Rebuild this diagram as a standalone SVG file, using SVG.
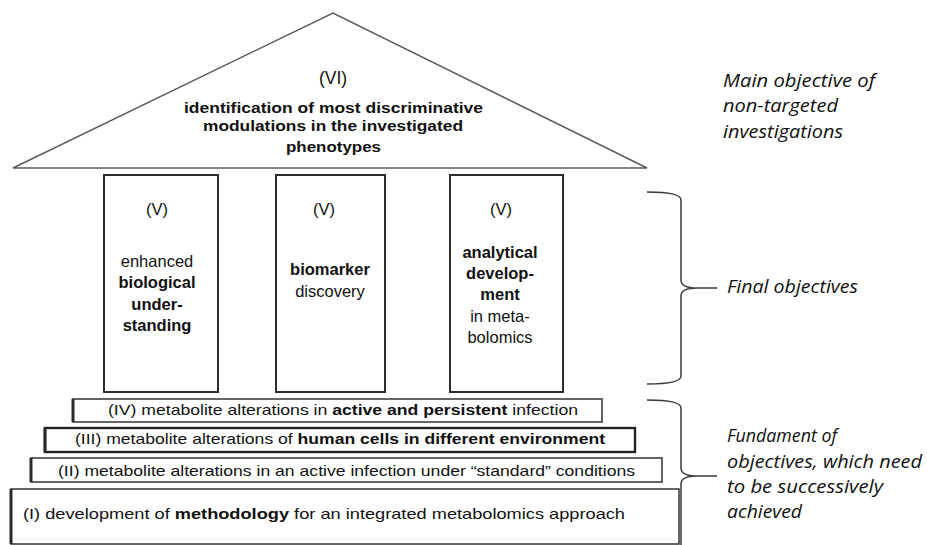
<svg xmlns="http://www.w3.org/2000/svg" width="927" height="545" viewBox="0 0 927 545">
  <style>
    .bg { fill: #ffffff; }
    .roof { fill: #ffffff; stroke: #5a5a5a; stroke-width: 1.4; stroke-linejoin: miter; }
    .pillar { fill: #ffffff; stroke: #2e2e2e; stroke-width: 2; }
    .step { fill: #ffffff; stroke: #333333; stroke-width: 1.5; }
    .stepthick { fill: #ffffff; stroke: #222222; stroke-width: 2.4; }
    .edge { stroke: #2a2a2a; stroke-width: 3; }
    .brace { fill: none; stroke: #3a3a3a; stroke-width: 1.5; }
    .t { font-family: "Liberation Sans", Arial, sans-serif; fill: #111111; }
    .roof-t { font-size: 15.5px; }
    .pil { font-size: 16.5px; text-anchor: middle; }
    .row { font-size: 15px; }
    .b { font-weight: bold; }
    .note { font-family: "Open Sans", "Noto Sans", sans-serif; font-style: italic; font-size: 18px; fill: #111111; }
  </style>

  <rect class="bg" x="0" y="0" width="927" height="545"/>

  <!-- roof (VI) -->
  <g id="roof">
    <polygon class="roof" points="13,168 333,13 647,168"/>
    <text class="t" x="333" y="84" text-anchor="middle" font-size="17.5">(VI)</text>
    <text class="t roof-t b" x="184" y="113" textLength="299" lengthAdjust="spacingAndGlyphs">identification of most discriminative</text>
    <text class="t roof-t b" x="203" y="131" textLength="260" lengthAdjust="spacingAndGlyphs">modulations in the investigated</text>
    <text class="t roof-t b" x="286" y="152" textLength="95" lengthAdjust="spacingAndGlyphs">phenotypes</text>
  </g>

  <!-- pillars (V) -->
  <g id="pillar-biology">
    <rect class="pillar" x="104" y="175" width="114" height="217"/>
    <text class="t pil" x="157" y="215">(V)</text>
    <text class="t pil" x="157" y="267">enhanced</text>
    <text class="t pil b" x="157" y="288">biological</text>
    <text class="t pil b" x="157" y="310">under-</text>
    <text class="t pil b" x="157" y="331">standing</text>
  </g>
  <g id="pillar-biomarker">
    <rect class="pillar" x="276" y="175" width="109" height="217"/>
    <text class="t pil" x="324" y="215">(V)</text>
    <text class="t pil b" x="330" y="275">biomarker</text>
    <text class="t pil" x="330" y="297">discovery</text>
  </g>
  <g id="pillar-analytics">
    <rect class="pillar" x="450" y="175" width="113" height="217"/>
    <text class="t pil" x="501" y="215">(V)</text>
    <text class="t pil b" x="500" y="258">analytical</text>
    <text class="t pil b" x="500" y="279">develop-</text>
    <text class="t pil b" x="500" y="300">ment</text>
    <text class="t pil" x="500" y="322">in meta-</text>
    <text class="t pil" x="500" y="343">bolomics</text>
  </g>

  <!-- foundation steps (IV) .. (I) -->
  <g id="step-IV">
    <rect class="step" x="73" y="399" width="529" height="23"/>
    <line class="edge" x1="73" y1="399" x2="73" y2="422"/>
    <text class="t row" x="108" y="415" textLength="470" lengthAdjust="spacingAndGlyphs">(IV) metabolite alterations in <tspan class="b">active and persistent</tspan> infection</text>
  </g>
  <g id="step-III">
    <rect class="stepthick" x="45" y="428" width="590" height="24"/>
    <line class="edge" x1="45" y1="428" x2="45" y2="452"/>
    <text class="t row" x="75" y="444" textLength="530" lengthAdjust="spacingAndGlyphs">(III) metabolite alterations of <tspan class="b">human cells in different environment</tspan></text>
  </g>
  <g id="step-II">
    <rect class="step" x="31" y="458" width="631" height="24"/>
    <line class="edge" x1="31" y1="458" x2="31" y2="482"/>
    <text class="t row" x="58" y="476" textLength="577" lengthAdjust="spacingAndGlyphs">(II) metabolite alterations in an active infection under “standard” conditions</text>
  </g>
  <g id="step-I">
    <rect class="step" x="11" y="489" width="668" height="55"/>
    <line class="edge" x1="11" y1="489" x2="11" y2="544"/>
    <text class="t row" x="23" y="519" textLength="602" lengthAdjust="spacingAndGlyphs">(I) development of <tspan class="b">methodology</tspan> for an integrated metabolomics approach</text>
  </g>

  <!-- braces -->
  <g id="connectors">
    <path class="brace" d="M647,192 Q681,192 681,200 L681,280 Q681,288 697,288 L717,288 M697,288 Q681,288 681,296 L681,376 Q681,384 647,384"/>
    <path class="brace" d="M647,400 Q681,400 681,408 L681,468 Q681,476 697,476 L717,476 M697,476 Q681,476 681,484 L681,560"/>
  </g>

  <!-- side annotations -->
  <g id="note-main">
    <text class="note" x="723" y="87" textLength="152" lengthAdjust="spacingAndGlyphs">Main objective of</text>
    <text class="note" x="723" y="112" textLength="115" lengthAdjust="spacingAndGlyphs">non-targeted</text>
    <text class="note" x="723" y="138" textLength="120" lengthAdjust="spacingAndGlyphs">investigations</text>
  </g>
  <g id="note-final">
    <text class="note" x="727" y="293" textLength="131" lengthAdjust="spacingAndGlyphs">Final objectives</text>
  </g>
  <g id="note-fundament">
    <text class="note" x="727" y="442" textLength="110" lengthAdjust="spacingAndGlyphs">Fundament of</text>
    <text class="note" x="727" y="468" textLength="195" lengthAdjust="spacingAndGlyphs">objectives, which need</text>
    <text class="note" x="727" y="493" textLength="156" lengthAdjust="spacingAndGlyphs">to be  successively</text>
    <text class="note" x="727" y="518" textLength="75" lengthAdjust="spacingAndGlyphs">achieved</text>
  </g>
</svg>
